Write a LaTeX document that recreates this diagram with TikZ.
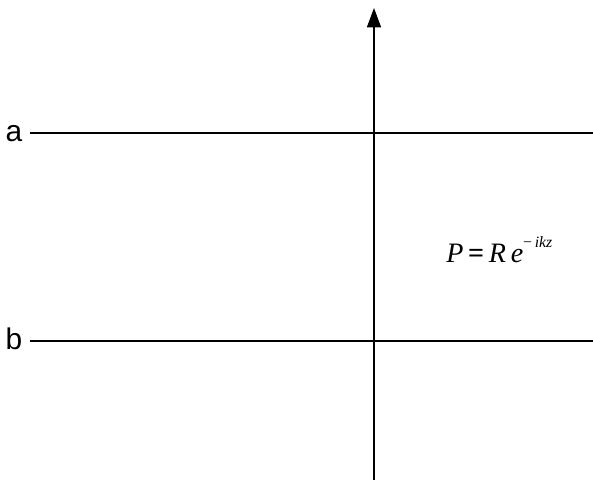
\documentclass[tikz,border=0pt]{standalone}
\usepackage{fontspec}
\setmainfont{Liberation Serif}
\newfontfamily\labelfont{Liberation Sans}
\usetikzlibrary{arrows.meta}

\begin{document}
\begin{tikzpicture}[x=0.02cm, y=-0.02cm]
\useasboundingbox (0, 0) rectangle (593, 481);
\tikzset{
  line/.style={draw=black, line width=0.7pt},
  lab/.style={font=\labelfont\fontsize{17}{17}\selectfont, inner sep=0pt, anchor=base}
}

% Vertical axis
\coordinate (bottom) at (374, 480);
\coordinate (top) at (374, 8);
\draw[line, -{Triangle[length=11pt, width=8pt]}] (bottom) -- (top);

% Layer a
\node[lab] (a) at (14, 141) {a};
\coordinate (astart) at (30, 133);
\coordinate (aend) at (593, 133);
\draw[line] (astart) -- (aend);

% Layer b
\node[lab] (b) at (14, 349) {b};
\coordinate (bstart) at (30, 341);
\coordinate (bend) at (593, 341);
\draw[line] (bstart) -- (bend);

% Wave
\node[font=\fontsize{16}{16}\selectfont, inner sep=0pt, anchor=base west] (wave) at (446, 262)
  {\textit{P}\,\textbf{=}\,\textit{R\,e}\raisebox{1.1ex}{\fontsize{9}{9}\selectfont −\,\textit{ikz}}};

\end{tikzpicture}
\end{document}
